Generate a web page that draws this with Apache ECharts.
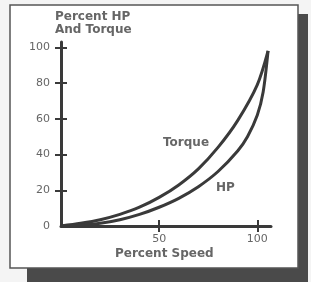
<!DOCTYPE html>
<html>
<head>
<meta charset="UTF-8">
<title>Percent HP and Torque</title>
<script src="https://cdn.jsdelivr.net/npm/echarts@6/dist/echarts.min.js"></script>
<style>
    body { margin: 0; padding: 0; background: #f4f4f4; }
    #main { width: 311px; height: 282px; }
</style>
</head>
<body>
<div id="main"></div>
<script type="text/javascript">
// 读图估计的数据
var torqueSpeed = [0, 10, 20, 30, 40, 50, 60, 70, 80, 90, 100, 105.5];
var torqueVal   = [0, 1.5, 3.5, 6.5, 10.5, 16, 23, 32, 44, 59, 79, 98];
var hpSpeed = [0, 10, 20, 30, 40, 50, 60, 70, 80, 90, 95, 100, 103, 105.5];
var hpVal   = [0, 0.5, 1.5, 3.5, 6.5, 10.5, 15.5, 22, 30.5, 42, 50, 62, 75, 98];
var xTicks = [50, 100];
var yLabels = [0, 20, 40, 60, 80, 100];
var yTicks = [20, 40, 60, 80, 100];

function pairs(xs, ys) {
    var out = [];
    for (var i = 0; i < xs.length; i++) out.push([xs[i], ys[i]]);
    return out;
}

var ink = '#3a3a3a';
var txt = '#666';
var font = 'DejaVu Sans';

var myChart = echarts.init(document.getElementById('main'));
var axisX = {
    type: 'value', min: 0, max: 107, gridIndex: 0, position: 'bottom',
    axisLine: { lineStyle: { color: ink, width: 3 } },
    splitLine: { show: false }
};
var axisY = {
    type: 'value', min: 0, max: 103, gridIndex: 0, position: 'left',
    axisLine: { lineStyle: { color: ink, width: 3 } },
    splitLine: { show: false }
};
var labelStyle = { color: txt, fontSize: 11, fontFamily: font };
var option = {
    animation: false,
    grid: { left: 61, top: 42, right: 40, bottom: 56 },
    graphic: [
        { type: 'rect', shape: { x: 27, y: 14, width: 281, height: 268 }, style: { fill: '#4a4a4a' }, z: -10 },
        { type: 'rect', shape: { x: 10, y: 5, width: 288, height: 263 }, style: { fill: '#fff', stroke: '#555', lineWidth: 1.5 }, z: -9 },
        { type: 'text', left: 55, top: 10, style: { text: 'Percent HP\nAnd Torque', font: 'bold 12px ' + font, fill: txt, lineHeight: 13 } },
        { type: 'text', left: 115, top: 248, style: { text: 'Percent Speed', font: 'bold 12px ' + font, fill: txt } },
        { type: 'text', left: 163, top: 137, style: { text: 'Torque', font: 'bold 12px ' + font, fill: txt } },
        { type: 'text', left: 216, top: 182, style: { text: 'HP', font: 'bold 12px ' + font, fill: txt } }
    ],
    xAxis: [
        Object.assign({}, axisX, {
            axisTick: { customValues: xTicks, length: 6, lineStyle: { color: ink, width: 2 } },
            axisLabel: Object.assign({ customValues: xTicks, margin: 8 }, labelStyle)
        }),
        Object.assign({}, axisX, {
            axisLine: { show: true, lineStyle: { color: 'rgba(0,0,0,0)' } },
            axisTick: { show: true, customValues: xTicks, inside: true, length: 6, lineStyle: { color: ink, width: 2 } },
            axisLabel: { show: false }
        })
    ],
    yAxis: [
        Object.assign({}, axisY, {
            axisTick: { customValues: yTicks, length: 6, lineStyle: { color: ink, width: 2 } },
            axisLabel: Object.assign({ customValues: yLabels, margin: 11 }, labelStyle)
        }),
        Object.assign({}, axisY, {
            axisLine: { show: true, lineStyle: { color: 'rgba(0,0,0,0)' } },
            axisTick: { show: true, customValues: yTicks, inside: true, length: 6, lineStyle: { color: ink, width: 2 } },
            axisLabel: { show: false }
        })
    ],
    series: [
        {
            name: 'Torque', type: 'line', smooth: 0.3, symbol: 'none',
            data: pairs(torqueSpeed, torqueVal),
            lineStyle: { color: ink, width: 3 }
        },
        {
            name: 'HP', type: 'line', smooth: 0.3, symbol: 'none',
            data: pairs(hpSpeed, hpVal),
            lineStyle: { color: ink, width: 3 }
        }
    ]
};
myChart.setOption(option);
</script>
</body>
</html>
